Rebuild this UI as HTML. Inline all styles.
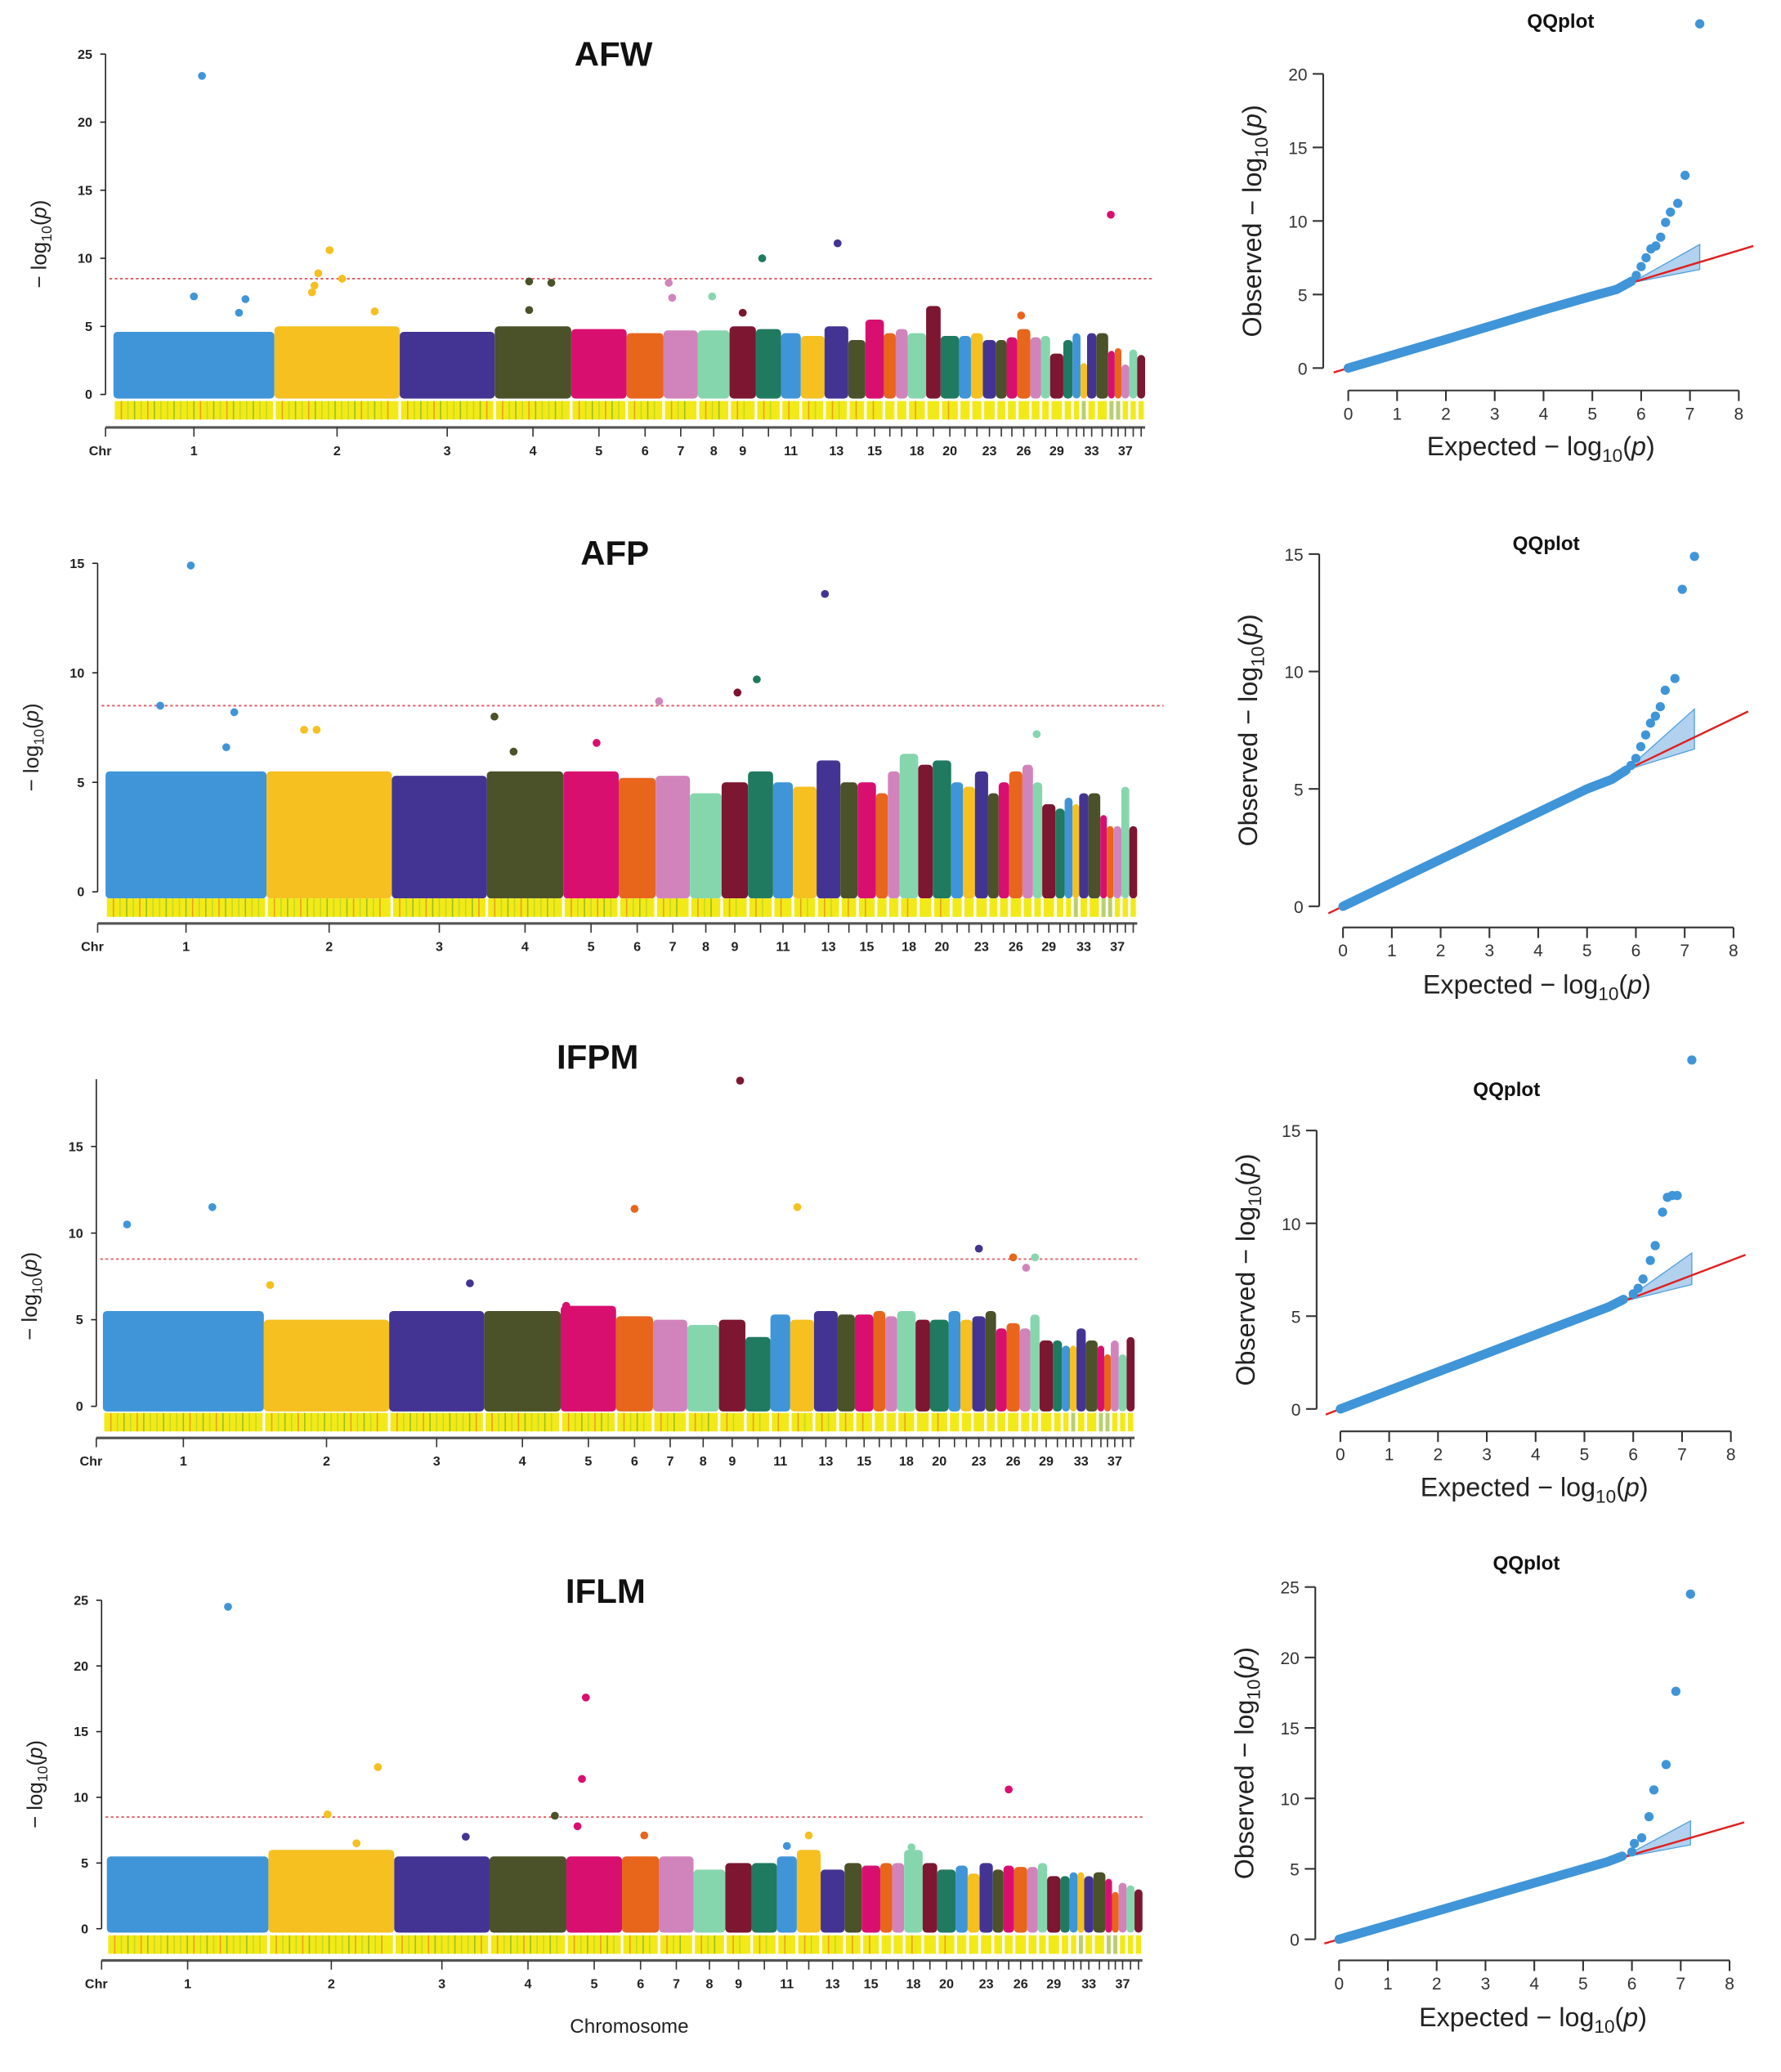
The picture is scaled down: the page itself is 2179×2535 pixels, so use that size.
<!DOCTYPE html>
<html><head><meta charset="utf-8">
<style>
html,body{margin:0;padding:0;background:#fff;}
svg{display:block;}
text{font-family:"Liberation Sans",sans-serif;}
</style></head>
<body>
<svg id="fig" xmlns="http://www.w3.org/2000/svg" width="2179" height="2535" viewBox="0 0 1350 1570.6" preserveAspectRatio="none"></svg>
<script>
// ---- shared data ----
const chrSizes = [122,95,72,58,42,28,26,24,20,19,15,18,18,13,14,9,9,14,11,14,9,9,10,8,8,10,8,7,10,7,6,5,7,9,5,5,6,6,6];
const chrLabels = ['1','2','3','4','5','6','7','8','9','11','13','15','18','20','23','26','29','33','37'];
const chrColors = ['#3f95d8','#f5c020','#433493','#4b5128','#d90f70','#e8651c','#d184bb','#86d6ad','#7d1630','#1f7a60'];

// AFW
const afwHeights = [4.6,5.0,4.6,5.0,4.8,4.5,4.7,4.7,5.0,4.8,4.5,4.3,5.0,4.0,5.5,4.5,4.8,4.5,6.5,4.3,4.3,4.5,4.0,4.0,4.2,4.8,4.2,4.3,3.0,4.0,4.5,2.3,4.5,4.5,3.2,3.4,2.2,3.3,2.9];
const afwOutChr = [1,1,1,1,2,2,2,2,2,2,4,4,4,7,7,8,9,10,13,26,35];
const afwOutPos = [0.55,0.5,0.82,0.78,0.35,0.44,0.54,0.3,0.32,0.8,0.45,0.74,0.45,0.15,0.25,0.45,0.5,0.25,0.55,0.3,0.4];
const afwOutVal = [23.4,7.2,7.0,6.0,8.9,10.6,8.5,7.5,8.0,6.1,8.3,8.2,6.2,8.2,7.1,7.2,6.0,10.0,11.1,5.8,13.2];
// AFP
const afpHeights = [5.5,5.5,5.3,5.5,5.5,5.2,5.3,4.5,5.0,5.5,5.0,4.8,6.0,5.0,5.0,4.5,5.5,6.3,5.8,6.0,5.0,4.8,5.5,4.5,5.0,5.5,5.8,5.0,4.0,3.8,4.3,4.0,4.5,4.5,3.5,3.0,3.0,4.8,3.0];
const afpOutChr = [1,1,1,2,2,4,4,5,7,9,10,13,28,1];
const afpOutPos = [0.53,0.34,0.8,0.3,0.4,0.1,0.35,0.6,0.1,0.6,0.35,0.35,0.4,0.75];
const afpOutVal = [14.9,8.5,8.2,7.4,7.4,8.0,6.4,6.8,8.7,9.1,9.7,13.6,7.2,6.6];
// IFPM
const ifpmHeights = [5.5,5.0,5.5,5.5,5.8,5.2,5.0,4.7,5.0,4.0,5.3,5.0,5.5,5.3,5.3,5.5,5.2,5.5,5.0,5.0,5.5,5.0,5.2,5.5,4.5,4.8,4.5,5.3,3.8,3.8,3.5,3.5,4.5,3.8,3.5,3.0,3.8,3.0,4.0];
const ifpmOutChr = [1,1,2,3,5,6,9,12,23,26,27,28];
const ifpmOutPos = [0.15,0.68,0.05,0.85,0.1,0.5,0.8,0.3,0.5,0.5,0.6,0.5];
const ifpmOutVal = [10.5,11.5,7.0,7.1,5.8,11.4,18.8,11.5,9.1,8.6,8.0,8.6];
// IFLM
const iflmHeights = [5.5,6.0,5.5,5.5,5.5,5.5,5.5,4.5,5.0,5.0,5.5,6.0,4.5,5.0,4.8,5.0,5.0,6.0,5.0,4.5,4.8,4.2,5.0,4.5,4.8,4.7,4.7,5.0,4.0,4.0,4.3,4.3,4.0,4.3,3.8,2.8,3.5,3.3,3.0];
const iflmOutChr = [1,2,2,2,3,4,5,5,5,6,11,12,25,18];
const iflmOutPos = [0.75,0.47,0.87,0.7,0.75,0.85,0.35,0.28,0.2,0.6,0.5,0.5,0.5,0.4];
const iflmOutVal = [24.5,8.7,12.3,6.5,7.0,8.6,17.6,11.4,7.8,7.1,6.3,7.1,10.6,6.2];

// QQ data
const qqMainX = [0,1,2,3,4,5,5.5,5.8];
const qq1MainY = [0,0.97,1.95,2.95,3.95,4.9,5.35,5.9];
const qq1TailX = [5.9,6.0,6.1,6.2,6.3,6.4,6.5,6.6,6.75,6.9,7.2];
const qq1TailY = [6.3,6.9,7.5,8.1,8.3,8.9,9.9,10.6,11.2,13.1,23.4];
const qq2MainY = [0,1,2,3,4,5,5.4,5.8];
const qq2TailX = [5.9,6.0,6.1,6.2,6.3,6.4,6.5,6.6,6.8,6.95,7.2];
const qq2TailY = [6.0,6.3,6.8,7.3,7.8,8.1,8.5,9.2,9.7,13.5,14.9];
const qq3MainY = [0,1,2,3,4,5,5.5,5.9];
const qq3TailX = [6.0,6.1,6.2,6.35,6.45,6.6,6.7,6.8,6.9,7.2];
const qq3TailY = [6.2,6.5,7.0,8.0,8.8,10.6,11.4,11.5,11.5,18.8];
const qq4MainY = [0,1,2,3,4,5,5.5,5.9];
const qq4TailX = [6.0,6.05,6.2,6.35,6.45,6.7,6.9,7.2];
const qq4TailY = [6.2,6.8,7.2,8.7,10.6,12.4,17.6,24.5];
const qqBandX = [5.8,7.2,7.2];
const qqBandY = [5.8,8.4,6.7];

const NS = 'http://www.w3.org/2000/svg';
const svg = document.getElementById('fig');
function mk(tag, attrs, parent){
  const e = document.createElementNS(NS, tag);
  for (const k in attrs) e.setAttribute(k, attrs[k]);
  (parent||svg).appendChild(e);
  return e;
}
function txt(s, attrs, parent){ const t = mk('text', attrs, parent); t.textContent = s; return t; }

function manhattan(name, title, heights, oChr, oPos, oVal, L){
  const g = mk('g', {});
  
  
  const total = chrSizes.reduce((a,b)=>a+b,0);
  const sx = (L.x1 - L.x0) / total;
  const starts = []; let acc = 0;
  chrSizes.forEach(s => { starts.push(acc); acc += s; });
  const xOf = (c, f) => L.x0 + (starts[c-1] + f * chrSizes[c-1]) * sx;
  const yOf = v => L.y0 - v * L.ppu;
  const t = txt(title, {x:L.tx, y:L.ty, 'font-size':26, 'font-weight':'bold', 'text-anchor':'middle', fill:'#111'}, g);
  
  
  const ya = mk('line', {x1:L.ax, x2:L.ax, y1:L.y0, y2:yOf(L.ymax), stroke:'#222', 'stroke-width':1}, g);
  
  
  for (let v = 0; v <= L.ymax; v += 5){
    mk('line', {x1:L.ax-4, x2:L.ax, y1:yOf(v), y2:yOf(v), stroke:'#222', 'stroke-width':1}, g);
    const tl = txt(String(v), {x:L.ax-10, y:yOf(v)+3.5, 'font-size':10, 'font-weight':'bold', 'text-anchor':'end', fill:'#222'}, g);
    
    
  }
  const yl = txt('', {transform:`translate(${L.ax-45},${(L.y0+yOf(L.ymax))/2+15}) rotate(-90)`, 'font-size':16, 'text-anchor':'middle', fill:'#222'}, g);
  yl.innerHTML = '\u2212 log<tspan font-size="11" dy="4">10</tspan><tspan dy="-4">(</tspan><tspan font-style="italic">p</tspan>)';
  
  
  heights.forEach((h, i) => {
    const x = L.x0 + starts[i]*sx, w = chrSizes[i]*sx;
    const r = mk('rect', {x:x, y:yOf(h), width:w, height:(h+0.3)*L.ppu, rx:Math.min(3,w/2), fill:chrColors[i%10]}, g);
    
    
  });
  const th = mk('line', {x1:L.ax+3, x2:L.thEnd, y1:yOf(8.5), y2:yOf(8.5), stroke:'#e0606a', 'stroke-width':1.2, 'stroke-dasharray':'2,2'}, g);
  
  
  oChr.forEach((c, i) => {
    const p = mk('circle', {cx:xOf(c, oPos[i]), cy:yOf(oVal[i]), r:3, fill:chrColors[(c-1)%10]}, g);
    
    
  });
  chrSizes.forEach((s, i) => {
    const x = L.x0 + starts[i]*sx + 1, w = Math.max(1, s*sx - 2);
    const r = mk('rect', {x:x, y:L.sy, width:w, height:14, fill:'#f2ea18'}, g);
    
    
    const n = Math.floor(w/5);
    for (let k = 1; k < n; k++){
      mk('line', {x1:x+k*5, x2:x+k*5, y1:L.sy, y2:L.sy+14, stroke:(k%3===0)?'#9cbe1e':(k%4===1?'#e8a020':'#c8d820'), 'stroke-width':1}, g);
    }
    if (w < 4) mk('rect', {x:x, y:L.sy, width:w, height:14, fill:'#b8cf70'}, g);
  });
  const xa = mk('line', {x1:L.ax, x2:L.x1, y1:L.xy, y2:L.xy, stroke:'#555', 'stroke-width':2}, g);
  
  
  mk('line', {x1:L.ax, x2:L.ax, y1:L.xy, y2:L.xy+7, stroke:'#333'}, g);
  const chr = txt('Chr', {x:L.ax-4, y:L.xy+21, 'font-size':10, 'font-weight':'bold', 'text-anchor':'middle', fill:'#222'}, g);
  
  
  chrSizes.forEach((s, i) => {
    const cx = xOf(i+1, 0.5);
    mk('line', {x1:cx, x2:cx, y1:L.xy, y2:L.xy+7, stroke:'#333'}, g);
    if (chrLabels.includes(String(i+1))){
      const tl = txt(String(i+1), {x:cx, y:L.xy+21, 'font-size':10, 'font-weight':'bold', 'text-anchor':'middle', fill:'#222'}, g);
      
      
    }
  });
}

function qq(name, mainY, tailX, tailY, L){
  const g = mk('g', {});
  
  
  const X = v => L.xa + v * L.xpu, Y = v => L.y0 - v * L.ypu;
  const t = txt('QQplot', {x:L.tx, y:L.ty, 'font-size':15, 'font-weight':'bold', 'text-anchor':'middle', fill:'#111'}, g);
  
  
  const ya = mk('line', {x1:L.ax, x2:L.ax, y1:Y(0), y2:Y(L.ymax), stroke:'#333', 'stroke-width':1.3}, g);
  
  
  for (let v = 0; v <= L.ymax; v += 5){
    mk('line', {x1:L.ax-8, x2:L.ax, y1:Y(v), y2:Y(v), stroke:'#333', 'stroke-width':1.3}, g);
    const tl = txt(String(v), {x:L.ax-12, y:Y(v)+5, 'font-size':13, 'text-anchor':'end', fill:'#333'}, g);
    
    
  }
  const xa = mk('line', {x1:X(0), x2:X(8), y1:L.xy, y2:L.xy, stroke:'#333', 'stroke-width':1.3}, g);
  
  
  for (let v = 0; v <= 8; v++){
    mk('line', {x1:X(v), x2:X(v), y1:L.xy, y2:L.xy+8, stroke:'#333', 'stroke-width':1.3}, g);
    const tl = txt(String(v), {x:X(v), y:L.xy+22, 'font-size':13, 'text-anchor':'middle', fill:'#333'}, g);
    
    
  }
  const xl = txt('', {x:L.xlx, y:L.xly, 'font-size':20, 'text-anchor':'middle', fill:'#222'}, g);
  xl.innerHTML = 'Expected  \u2212 log<tspan font-size="14" dy="5">10</tspan><tspan dy="-5">(</tspan><tspan font-style="italic">p</tspan>)';
  
  
  const yl = txt('', {transform:`translate(${L.ax-47},${(Y(0)+Y(L.ymax))/2}) rotate(-90)`, 'font-size':20, 'text-anchor':'middle', fill:'#222'}, g);
  yl.innerHTML = 'Observed  \u2212 log<tspan font-size="14" dy="5">10</tspan><tspan dy="-5">(</tspan><tspan font-style="italic">p</tspan>)';
  
  
  const band = mk('polygon', {points: qqBandX.map((v,i)=>X(v)+','+Y(qqBandY[i])).join(' '), fill:'#a9cdee', stroke:'#3f95d8', 'stroke-width':0.8, opacity:0.9}, g);
  
  
  const rl = mk('line', {x1:X(-0.3), y1:Y(-0.3), x2:X(8.3), y2:Y(8.3), stroke:'#e02020', 'stroke-width':1.5}, g);
  
  
  const main = mk('polyline', {points: qqMainX.map((v,i)=>X(v)+','+Y(mainY[i])).join(' '), fill:'none', stroke:'#3f95d8', 'stroke-width':7, 'stroke-linecap':'round', 'stroke-linejoin':'round'}, g);
  
  
  tailX.forEach((v,i) => {
    const c = mk('circle', {cx:X(v), cy:Y(tailY[i]), r:3.5, fill:'#3f95d8'}, g);
    
    
  });
}

manhattan('afw','AFW',afwHeights,afwOutChr,afwOutPos,afwOutVal,{x0:86,x1:868,ax:80,y0:299,ppu:10.32,ymax:25,tx:465,ty:50,sy:304,xy:324,thEnd:873});
manhattan('afp','AFP',afpHeights,afpOutChr,afpOutPos,afpOutVal,{x0:80,x1:862,ax:74,y0:676,ppu:16.6,ymax:15,tx:466,ty:428,sy:681,xy:700,thEnd:882});
manhattan('ifpm','IFPM',ifpmHeights,ifpmOutChr,ifpmOutPos,ifpmOutVal,{x0:78,x1:860,ax:73,y0:1066,ppu:13.13,ymax:15,tx:453,ty:810,sy:1071,xy:1090,thEnd:862});
manhattan('iflm','IFLM',iflmHeights,iflmOutChr,iflmOutPos,iflmOutVal,{x0:81,x1:866,ax:77,y0:1462,ppu:9.96,ymax:25,tx:459,ty:1215,sy:1467,xy:1486,thEnd:868});
mk('line',{x1:73,x2:73,y1:869,y2:818,stroke:'#222','stroke-width':1});
const chromTitle = txt('Chromosome',{x:477,y:1541,'font-size':15,'text-anchor':'middle',fill:'#222'});



qq('afw',qq1MainY,qq1TailX,qq1TailY,{ax:1003,xa:1022,xpu:37,y0:279,ypu:11.15,ymax:20,xy:296,tx:1183,ty:21,xlx:1168,xly:345});
qq('afp',qq2MainY,qq2TailX,qq2TailY,{ax:1000,xa:1018,xpu:37,y0:687,ypu:17.8,ymax:15,xy:703,tx:1172,ty:417,xlx:1165,xly:753});
qq('ifpm',qq3MainY,qq3TailX,qq3TailY,{ax:998,xa:1016,xpu:37,y0:1068,ypu:14.07,ymax:15,xy:1085,tx:1142,ty:831,xlx:1163,xly:1134});
qq('iflm',qq4MainY,qq4TailX,qq4TailY,{ax:997,xa:1015,xpu:37,y0:1470,ypu:10.68,ymax:25,xy:1486,tx:1157,ty:1190,xlx:1162,xly:1536});
</script>
</body></html>
